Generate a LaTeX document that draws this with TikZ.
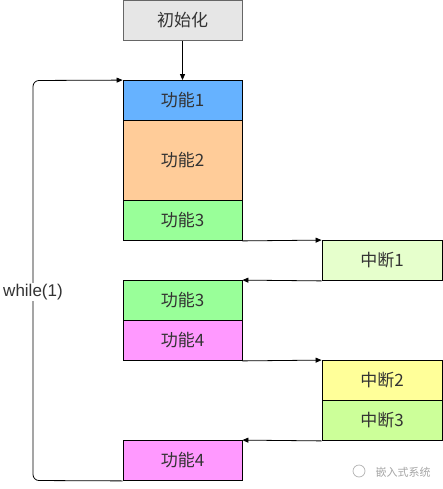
\documentclass[tikz,border=0pt]{standalone}
\usepackage{fontspec}
\setmainfont{Liberation Sans}
\newfontfamily\cjk{Noto Sans CJK SC}
\usetikzlibrary{arrows.meta}
\definecolor{initfill}{HTML}{E6E6E6}
\definecolor{initdraw}{HTML}{666666}
\definecolor{cblue}{HTML}{66B2FF}
\definecolor{corange}{HTML}{FFCC99}
\definecolor{cgreen}{HTML}{99FF99}
\definecolor{cpink}{HTML}{FF99FF}
\definecolor{cyellow}{HTML}{FFFF99}
\definecolor{clime}{HTML}{CCFF99}
\definecolor{cpale}{HTML}{E6FFCC}
\definecolor{txt}{HTML}{333333}
\tikzset{
  box/.style={draw=black, line width=0.8pt, minimum width=119pt, minimum height=40pt,
    inner sep=0pt, font=\cjk\fontsize{17pt}{19pt}\selectfont, text=txt},
  conn/.style={draw=black, line width=0.8pt, -{Triangle[length=6pt,width=5pt]}},
}
\begin{document}
\begin{tikzpicture}[x=1pt,y=-1pt]
\useasboundingbox (0,0) rectangle (443,489);
\fill[white] (0,0) rectangle (443,489);
\node[box, draw=initdraw, fill=initfill] (init) at (182.5,20.5) {初始化};
\node[box, fill=cblue] (f1) at (182.5,100.5) {功能1};
\node[box, fill=corange, minimum height=80pt] (f2) at (182.5,160.5) {功能2};
\node[box, fill=cgreen] (f3a) at (182.5,220.5) {功能3};
\node[box, fill=cpale, minimum width=120pt] (i1) at (382,260.5) {中断1};
\node[box, fill=cgreen] (f3b) at (182.5,300.5) {功能3};
\node[box, fill=cpink] (f4a) at (182.5,340.5) {功能4};
\node[box, fill=cyellow, minimum width=120pt] (i2) at (382,380.5) {中断2};
\node[box, fill=clime, minimum width=120pt] (i3) at (382,420.5) {中断3};
\node[box, fill=cpink] (f4b) at (182.5,460.5) {功能4};
\draw[conn] (init.south) -- (f1.north);
\draw[conn] (f3a.south east) -- (i1.north west);
\draw[conn] (i1.south west) -- (f3b.north east);
\draw[conn] (f4a.south east) -- (i2.north west);
\draw[conn] (i3.south west) -- (f4b.north east);
\coordinate (lb) at (33,480.5);
\coordinate (lt) at (33,80.5);
\draw[conn, rounded corners=6pt] (f4b.south west) -- (lb) -- (lt) -- (f1.north west);
\node[fill=white, inner sep=1pt, font=\fontsize{17pt}{19pt}\selectfont, text=txt] (wl) at (33,292) {while(1)};
\node[font=\cjk\fontsize{11pt}{13pt}\selectfont, text=black!35, anchor=west] (wm) at (372,472) {嵌入式系统};
\node[draw=black!30, circle, inner sep=0pt, minimum size=12pt, line width=0.7pt] (logo) at (359,471) {};
\end{tikzpicture}
\end{document}
